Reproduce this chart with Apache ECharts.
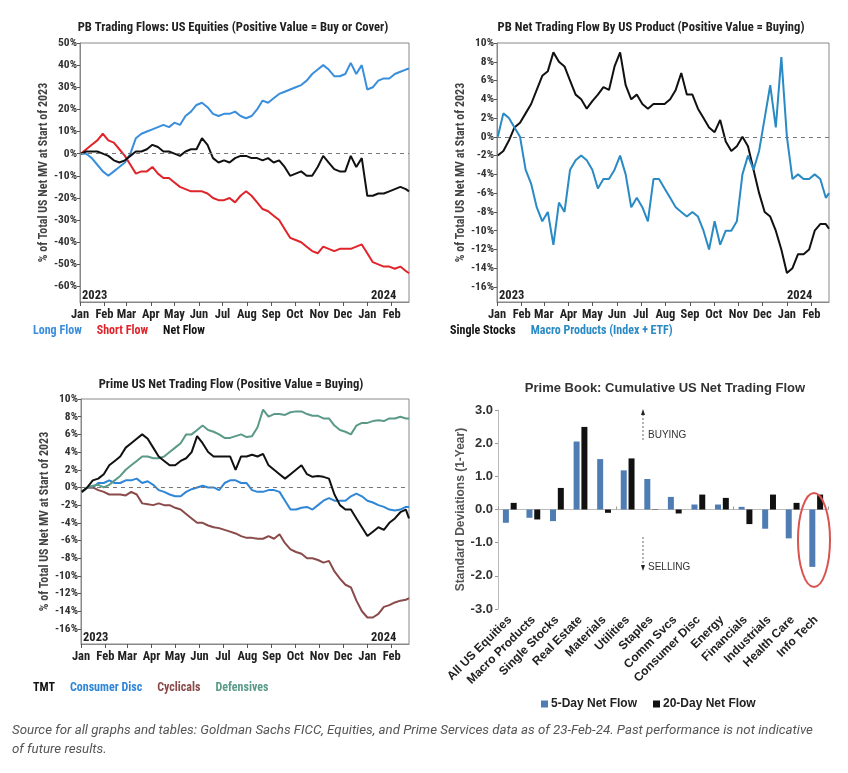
<!DOCTYPE html>
<html><head><meta charset="utf-8">
<script src="https://cdn.jsdelivr.net/npm/echarts@6/dist/echarts.min.js"></script>
<style>html,body{margin:0;padding:0;background:#fff}#c{width:848px;height:773px}</style>
</head><body><div id="c"></div>
<script>
const FN = "'Liberation Sans Narrow','Arial Narrow','Roboto Condensed',Arial,sans-serif";
const FS = "'Liberation Sans',Arial,sans-serif";

const monthNames = ['Jan','Feb','Mar','Apr','May','Jun','Jul','Aug','Sep','Oct','Nov','Dec'];
const monthTicks = ['2023-01-01','2023-02-01','2023-03-01','2023-04-01','2023-05-01','2023-06-01','2023-07-01','2023-08-01','2023-09-01','2023-10-01','2023-11-01','2023-12-01','2024-01-01','2024-02-01'];
const pctTicksA = [-60,-50,-40,-30,-20,-10,0,10,20,30,40,50];
const pctTicksB = [-16,-14,-12,-10,-8,-6,-4,-2,0,2,4,6,8,10];

// Chart 1: PB Trading Flows (weekly readings, Jan 2 2023 .. Feb 23 2024)
const longFlow  = [0,0,-2,-5,-8,-10,-8,-6,-4,0, 7,9,10,11,12,13,12,14,13,17, 19,22,23,21,18,17,18,18,19,17, 16,17,20,24,23,25,27,28,29,30, 31,33,36,38,40,38,35,35,36,41, 36,40,29,30,33,34,34,36,37,38, 38.5];
const shortFlow = [0,2,4,6,9,6,5,2,-1,-5, -9,-8,-8,-6,-9,-11,-11,-13,-15,-16, -17,-17,-17,-18,-20,-21,-21,-20,-22,-19, -17,-19,-22,-25,-26,-28,-30,-34,-38,-39, -40,-42,-44,-45,-42,-43,-44,-43,-43,-43, -42,-41,-45,-49,-50,-51,-51,-52,-51,-53, -54];
const netFlow   = [0,1,1,1,0,-1,-3,-4,-3,-1, 1,1,2,4,3,1,1,0,-1,1, 2,2,7,4,-2,-4,-3,-4,-2,-1, -1,-2,-2,-3,-2,-4,-3,-6,-10,-9, -8,-10,-10,-6,-1,-4,-7,-8,-8,-1, -6,-2,-19,-19,-18,-18,-17,-16,-15,-16, -17];

// Chart 2: PB Net Trading Flow by US Product
const singleStocks = [-2,-1.5,-0.4,1,1.5,2.5,3.5,5,6.5,7, 9,8,7.5,6,4.5,4,3,3.8,4.5,5.3, 5,7.5,9,5.5,4,4.5,3.5,3,3.5,3.5, 3.5,4,5,6.8,4.5,4.5,3,2,1,0.5, 1.8,-0.5,-1.5,-1,0,-1,-3.5,-6,-8,-8.5, -10,-12,-14.5,-14,-12.5,-12.5,-12,-10,-9.3,-9.3, -9.8];
const macroProducts = [0,2.5,2,1,0,-3.5,-5,-7.5,-9,-8, -11.5,-7,-8,-3.5,-2.5,-2,-2.5,-3.5,-5.5,-4.5, -4.5,-3.5,-2,-4,-7.5,-6.5,-7.5,-9,-4.5,-4.5, -5.5,-6.5,-7.5,-8,-8.5,-8,-8.5,-10,-12,-9, -11.5,-10,-10,-9,-4,-2,-3.5,-1.5,2,5.5, 1,8.5,0,-4.5,-4,-4.5,-4.5,-4,-4.5,-6.5, -6];

// Chart 3: Prime US Net Trading Flow
const tmt = [-0.5,0,0.8,1,1.5,2.5,3,3.5,4.5,5, 5.5,6,5.5,4.5,3.5,3,2.5,2.5,3,3.3, 4,5.8,5,4,3.5,3.5,3.5,3.5,2,3.5, 3.5,3.7,3.5,3.8,2.5,2,1.5,1,1.5,2, 2.5,1.5,1.2,1.3,1.2,1,-0.8,-2,-2.5,-2.5, -3.5,-4.5,-5.5,-5,-4.5,-4.8,-4,-3.5,-2.8,-2.5, -3.5];
const consumerDisc = [-0.5,0,0,0.5,0.5,0.8,0.5,0.5,0.8,0.8, 1,0.5,0.7,0.3,-0.3,-0.5,-0.8,-1,-1,-0.5, -0.2,0,0.2,0,0,-0.3,0.5,0.8,0.8,0.5, 0.5,-0.3,-0.5,-0.5,-0.3,-0.3,-0.5,-1.5,-2.5,-2.5, -2.3,-2.2,-2.5,-2,-1.5,-1.2,-1.5,-1.5,-1.5,-1, -0.7,-1,-1.5,-1.7,-2,-2.2,-2.5,-2.6,-2.5,-2.2, -2.2];
const cyclicals = [-0.5,0,0,-0.3,-0.5,-0.8,-0.8,-0.8,-0.9,-0.5, -0.8,-1.8,-1.9,-2,-1.8,-2,-2,-2.3,-2.5,-3, -3.5,-4,-4,-4.3,-4.5,-4.6,-4.8,-5,-5.2,-5.5, -5.7,-5.7,-5.8,-5.8,-5.5,-5.8,-5.3,-6.3,-7,-7.3, -7.5,-8,-8,-8.2,-8.5,-8.3,-9.5,-10.3,-11,-11.3, -12.8,-14,-14.7,-14.7,-14.3,-13.5,-13.3,-13,-12.8,-12.7, -12.5];
const defensives = [-0.5,0,0.2,0.3,0,0.3,0.8,1.3,2,2.5, 3,3.5,3.5,3.3,3.3,3.5,4,4.5,5,6, 6,6.5,7,6.5,6.3,6,5.6,5.6,5.8,6, 5.7,5.8,6.8,8.8,8,8.3,8.3,8.2,8.5,8.6, 8.6,8.3,8.1,8.1,7.8,7.8,7,6.5,6.3,6, 7,7.3,7.3,7.5,7.6,7.5,7.8,7.8,8,7.8, 7.8];

// Chart 4: Prime Book bars
const barCategories = ['All US Equities','Macro Products','Single Stocks','Real Estate','Materials','Utilities','Staples','Comm Svcs','Consumer Disc','Energy','Financials','Industrials','Health Care','Info Tech'];
const fiveDay   = [-0.4,-0.25,-0.35,2.05,1.52,1.18,0.92,0.38,0.15,0.15,0.08,-0.58,-0.87,-1.73];
const twentyDay = [0.2,-0.3,0.65,2.49,-0.1,1.54,0.01,-0.12,0.45,0.35,-0.44,0.45,0.2,0.45];

// weekly sample dates (axis positions of the readings above)
const toTs = s => new Date(s + 'T00:00:00').getTime();
const monthTickTs = monthTicks.map(toTs);
const X_MIN = toTs('2023-01-01'), X_MAX = toTs('2024-02-23');
const weeks = [];
for (let w = 0; w < 60; w++) weeks.push(new Date(2023, 0, 2 + 7 * w).getTime());
weeks.push(toTs('2024-02-23'));
const pts = vals => vals.map((v, i) => [weeks[i], v]);

const YNAME = '% of Total US Net MV at Start of 2023';

function timeX(gi) {
  return {
    type: 'value', gridIndex: gi, min: X_MIN, max: X_MAX,
    axisLine: { show: true, onZero: false, lineStyle: { color: '#888' } },
    axisTick: { show: true, length: 4, customValues: monthTickTs, lineStyle: { color: '#555' } },
    axisLabel: { customValues: monthTickTs, formatter: v => monthNames[new Date(v).getMonth()],
      color: '#222', fontFamily: FN, fontWeight: 'bold', fontSize: 12.5, margin: 6, hideOverlap: false },
    splitLine: { show: false }
  };
}
function pctY(gi, min, max, ticks) {
  return {
    type: 'value', gridIndex: gi, min: min, max: max,
    axisLine: { show: true, lineStyle: { color: '#888' } },
    axisTick: { show: true, length: 3, customValues: ticks, lineStyle: { color: '#555' } },
    axisLabel: { customValues: ticks, formatter: '{value}%', fontFamily: FN, fontWeight: 'bold', fontSize: 11.5, color: '#333', margin: 3 },
    splitLine: { show: false },
    name: YNAME, nameLocation: 'middle', nameGap: 30,
    nameTextStyle: { fontFamily: FN, fontWeight: 'bold', fontSize: 12, color: '#444' }
  };
}
const zeroLine = { silent: true, symbol: 'none', label: { show: false },
  lineStyle: { type: [4, 4], color: '#777', width: 1 }, data: [{ yAxis: 0 }] };
function line(name, vals, color, xi, extra) {
  return Object.assign({ type: 'line', name: name, xAxisIndex: xi, yAxisIndex: xi, data: pts(vals),
    showSymbol: false, symbol: 'none', lineStyle: { width: 2, color: color }, itemStyle: { color: color } }, extra || {});
}
const titleStyle = { fontFamily: FN, fontWeight: 'bold', fontSize: 12.6, color: '#222' };
const legendText = { fontFamily: FN, fontWeight: 'bold', fontSize: 12 };
function textLegend(left, top, items) {
  return { left: left, top: top, icon: 'none', itemWidth: 0, itemHeight: 10, itemGap: 10, selectedMode: false,
    textStyle: legendText, padding: 0,
    data: items.map(([n, c]) => ({ name: n, textStyle: { color: c } })) };
}
const yearText = (x, y, t) => ({ type: 'text', left: x, top: y,
  style: { text: t, fontFamily: FN, fontWeight: 'bold', fontSize: 12.5, fill: '#222' } });

const C_LONG = '#3a8edb', C_SHORT = '#e0242a', C_BLK = '#111', C_MACRO = '#2a8ac4',
      C_CD = '#2f86d6', C_CYC = '#8a4a4a', C_DEF = '#5b9a88', C_5D = '#4f7db3';

const option = {
  animation: false,
  backgroundColor: '#fff',
  title: [
    { text: 'PB Trading Flows: US Equities (Positive Value = Buy or Cover)', left: 233, top: 21, textAlign: 'center', padding: 0, textStyle: titleStyle },
    { text: 'PB Net Trading Flow By US Product (Positive Value = Buying)', left: 651, top: 21, textAlign: 'center', padding: 0, textStyle: titleStyle },
    { text: 'Prime US Net Trading Flow (Positive Value = Buying)', left: 231, top: 378, textAlign: 'center', padding: 0, textStyle: titleStyle },
    { text: 'Prime Book: Cumulative US Net Trading Flow', left: 665, top: 382, textAlign: 'center', padding: 0,
      textStyle: { fontFamily: FS, fontWeight: 'bold', fontSize: 13, color: '#333' } }
  ],
  legend: [
    textLegend(28, 325, [['Long Flow', C_LONG], ['Short Flow', C_SHORT], ['Net Flow', C_BLK]]),
    textLegend(445, 325, [['Single Stocks', C_BLK], ['Macro Products (Index + ETF)', C_MACRO]]),
    textLegend(28, 682, [['TMT', C_BLK], ['Consumer Disc', C_CD], ['Cyclicals', C_CYC], ['Defensives', C_DEF]]),
    { left: 541, top: 698, icon: 'rect', itemWidth: 7, itemHeight: 7, itemGap: 16, selectedMode: false, padding: 0,
      textStyle: { fontFamily: FS, fontWeight: 'bold', fontSize: 12, color: '#222', padding: [0, 0, 0, -2] },
      data: ['5-Day Net Flow', '20-Day Net Flow'] }
  ],
  grid: [
    { left: 80, top: 43, width: 329, height: 259, show: true, borderColor: '#888', borderWidth: 1 },
    { left: 497, top: 43, width: 332, height: 259, show: true, borderColor: '#888', borderWidth: 1 },
    { left: 81, top: 399, width: 328, height: 245, show: true, borderColor: '#888', borderWidth: 1 },
    { left: 498, top: 410, width: 330, height: 199 }
  ],
  xAxis: [
    timeX(0), timeX(1), timeX(2),
    { type: 'category', gridIndex: 3, data: barCategories,
      axisLine: { show: false, onZero: false }, axisTick: { show: false },
      axisLabel: { rotate: 45, interval: 0, margin: 9, fontFamily: FS, fontWeight: 'bold', fontSize: 12, color: '#222' } },
    { type: 'category', gridIndex: 3, data: barCategories,
      axisLine: { show: true, onZero: true, lineStyle: { color: '#bbb' } },
      axisTick: { show: true, length: 3, lineStyle: { color: '#999' } },
      axisLabel: { show: false } }
  ],
  yAxis: [
    pctY(0, -67, 50, pctTicksA),
    pctY(1, -17.6, 10, pctTicksB),
    pctY(2, -17.7, 10, pctTicksB),
    { type: 'value', gridIndex: 3, min: -3, max: 3, interval: 1,
      axisLine: { show: true, lineStyle: { color: '#bbb' } },
      axisTick: { show: true, length: 3, lineStyle: { color: '#999' } },
      axisLabel: { formatter: v => v.toFixed(1), fontFamily: FS, fontWeight: 'bold', fontSize: 13, color: '#333', margin: 5 },
      splitLine: { show: false },
      name: 'Standard Deviations (1-Year)', nameLocation: 'middle', nameGap: 30,
      nameTextStyle: { fontFamily: FS, fontWeight: 'bold', fontSize: 12, color: '#555' } }
  ],
  series: [
    line('Long Flow', longFlow, C_LONG, 0, { markLine: zeroLine }),
    line('Short Flow', shortFlow, C_SHORT, 0),
    line('Net Flow', netFlow, C_BLK, 0),
    line('Single Stocks', singleStocks, C_BLK, 1, { markLine: zeroLine }),
    line('Macro Products (Index + ETF)', macroProducts, C_MACRO, 1),
    line('TMT', tmt, C_BLK, 2, { markLine: zeroLine, z: 5 }),
    line('Consumer Disc', consumerDisc, C_CD, 2),
    line('Cyclicals', cyclicals, C_CYC, 2),
    line('Defensives', defensives, C_DEF, 2),
    { type: 'bar', name: '5-Day Net Flow', xAxisIndex: 3, yAxisIndex: 3, data: fiveDay,
      barWidth: 6, barGap: '30%', itemStyle: { color: C_5D } },
    { type: 'bar', name: '20-Day Net Flow', xAxisIndex: 3, yAxisIndex: 3, data: twentyDay,
      barWidth: 6, barGap: '30%', itemStyle: { color: C_BLK } }
  ],
  graphic: [
    yearText(82, 289, '2023'), yearText(371, 289, '2024'),
    yearText(499, 289, '2023'), yearText(787, 289, '2024'),
    yearText(83, 631, '2023'), yearText(371, 631, '2024'),
    { type: 'line', shape: { x1: 643, y1: 414, x2: 643, y2: 441 }, style: { stroke: '#666', lineWidth: 1, lineDash: [2, 2] } },
    { type: 'polygon', shape: { points: [[641, 415], [645, 415], [643, 409]] }, style: { fill: '#222' } },
    { type: 'text', left: 648, top: 430, style: { text: 'BUYING', fontFamily: FS, fontSize: 10, fill: '#333' } },
    { type: 'line', shape: { x1: 643, y1: 537, x2: 643, y2: 566 }, style: { stroke: '#666', lineWidth: 1, lineDash: [2, 2] } },
    { type: 'polygon', shape: { points: [[641, 565], [645, 565], [643, 571]] }, style: { fill: '#222' } },
    { type: 'text', left: 648, top: 562, style: { text: 'SELLING', fontFamily: FS, fontSize: 10, fill: '#333' } },
    { type: 'ellipse', shape: { cx: 814, cy: 540, rx: 16, ry: 47 }, style: { fill: 'none', stroke: '#d9534f', lineWidth: 2 }, z: 100 },
    { type: 'text', left: 12, top: 721,
      style: { text: 'Source for all graphs and tables: Goldman Sachs FICC, Equities, and Prime Services data as of 23-Feb-24. Past performance is not indicative\nof future results.',
        fontFamily: 'Roboto, sans-serif', fontStyle: 'italic', fontSize: 13.3, fill: '#555', lineHeight: 19 } }
  ]
};
const chart = echarts.init(document.getElementById('c'));
chart.setOption(option);
</script>
</body></html>
